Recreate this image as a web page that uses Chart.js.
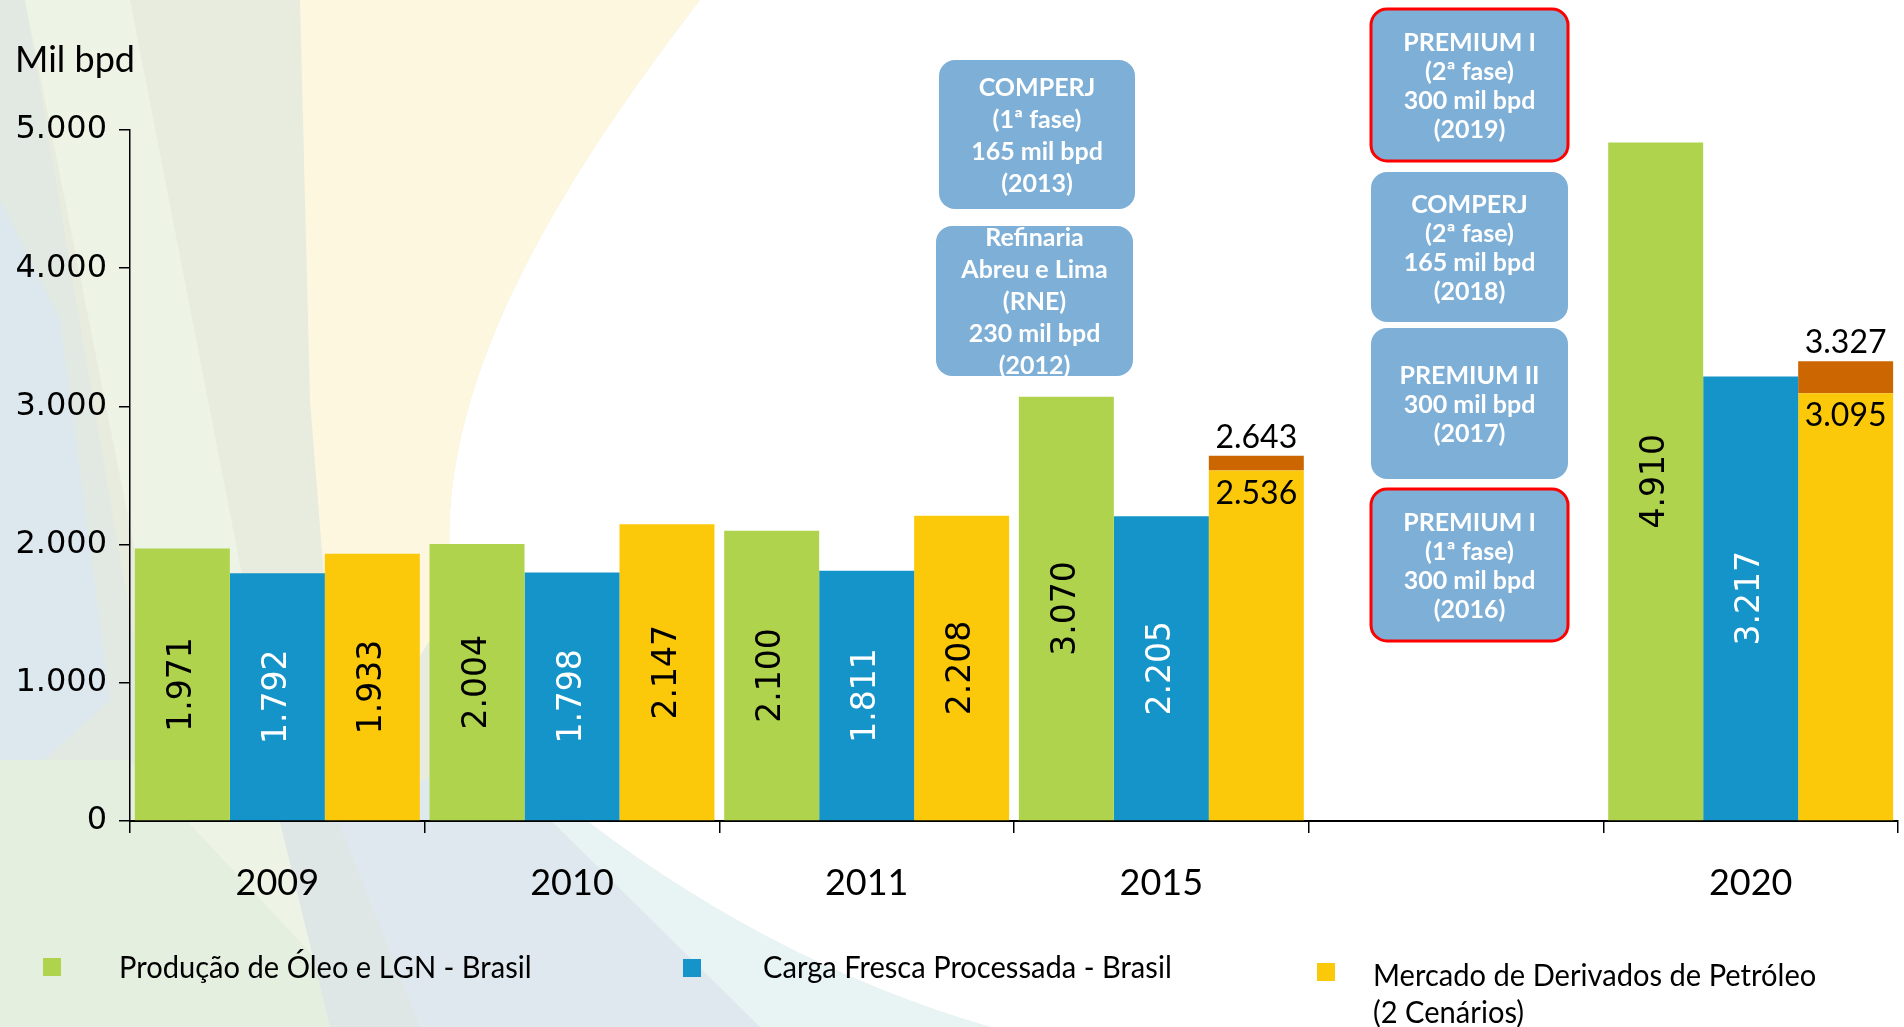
<!DOCTYPE html>
<html>
<head>
<meta charset="utf-8">
<script src="https://cdn.jsdelivr.net/npm/chart.js@4.4.1/dist/chart.umd.min.js"></script>
<style>
html, body { margin: 0; padding: 0; background: #fff; }
#wrap { position: relative; width: 1904px; height: 1027px; overflow: hidden; }
#ItemC1 { position: absolute; left: 0; top: 0; }
.txt { position: absolute; font-family: Lato, sans-serif; color: #000; white-space: nowrap; transform-origin: 0 0; }
.sq { position: absolute; width: 18px; height: 18px; }
</style>
</head>
<body>
<div id="wrap">
  <canvas id="ItemC1" width="1904" height="1027"></canvas>
  <div class="txt" style="left:15px;top:40px;font-size:36px;line-height:36px;transform:scaleX(1.0)">Mil bpd</div>

  <div class="sq" style="left:43px;top:958px;background:#b0d34e"></div>
  <div class="txt" style="left:119px;top:951px;font-size:30px;line-height:30px;transform:scaleX(0.97)">Produção de Óleo e LGN - Brasil</div>

  <div class="sq" style="left:683px;top:959px;background:#1494c8"></div>
  <div class="txt" style="left:763px;top:951px;font-size:30px;line-height:30px;transform:scaleX(0.97)">Carga Fresca Processada - Brasil</div>

  <div class="sq" style="left:1317px;top:963px;background:#fbc90a"></div>
  <div class="txt" style="left:1373px;top:956px;font-size:30px;line-height:37px;transform:scaleX(0.97)">Mercado de Derivados de Petróleo<br>(2 Cenários)</div>
</div>
<script>
// anos (a 5a categoria fica vazia, como no slide)
var categories = ['2009', '2010', '2011', '2015', '', '2020'];

var producao = [1971, 2004, 2100, 3070, null, 4910];     // Produção de Óleo e LGN
var cargaFresca = [1792, 1798, 1811, 2205, null, 3217];  // Carga Fresca Processada
var mercado = [1933, 2147, 2208, 2536, null, 3095];      // Mercado de Derivados (cenário base)
var mercadoAlto = [null, null, null, 2643, null, 3327];  // Mercado de Derivados (cenário alto)

var yTicks = [0, 1000, 2000, 3000, 4000, 5000];

// caixas de refinarias
var boxesLeft = [
    ['COMPERJ', '(1ª fase)', '165 mil bpd', '(2013)'],
    ['Refinaria', 'Abreu e Lima', '(RNE)', '230 mil bpd', '(2012)']
];
var boxesRight = [
    ['PREMIUM I', '(2ª fase)', '300 mil bpd', '(2019)'],
    ['COMPERJ', '(2ª fase)', '165 mil bpd', '(2018)'],
    ['PREMIUM II', '300 mil bpd', '(2017)'],
    ['PREMIUM I', '(1ª fase)', '300 mil bpd', '(2016)']
];
var boxesRightRed = [true, false, false, true];

function fmt(v) {
    return String(v).replace(/\B(?=(\d{3})+(?!\d))/g, '.');
}

var extra = mercadoAlto.map(function(v, i) {
    return v == null ? null : v - mercado[i];
});

var viewport = document.getElementById('ItemC1');
var ctx = viewport.getContext('2d');

var backdrop = {
    id: 'backdrop',
    beforeDraw: function(chart) {
        var c = chart.ctx, w = chart.width, h = chart.height;
        c.save();
        c.fillStyle = '#ffffff';
        c.fillRect(0, 0, w, h);
        c.beginPath();
        c.moveTo(0, 0);
        c.lineTo(700, 0);
        c.bezierCurveTo(500, 260, 330, 560, 560, 800);
        c.quadraticCurveTo(760, 960, 990, 1027);
        c.lineTo(0, 1027);
        c.closePath();
        c.clip();
        c.fillStyle = '#e8ecdf';
        c.fillRect(0, 0, w, h);

        function poly(col, pts) {
            c.fillStyle = col;
            c.beginPath();
            c.moveTo(pts[0], pts[1]);
            for (var k = 2; k < pts.length; k += 2) c.lineTo(pts[k], pts[k + 1]);
            c.closePath();
            c.fill();
        }
        poly('#fdf7df', [300, 0, 900, 0, 900, 600, 430, 640, 340, 780, 310, 400]);
        poly('#e1e9e2', [0, 0, 25, 0, 200, 1027, 0, 1027]);
        poly('#eef4e5', [25, 0, 130, 0, 330, 1027, 230, 1027]);
        poly('#dde8ee', [0, 200, 60, 320, 110, 700, 0, 800]);
        poly('#e5efdf', [0, 760, 130, 760, 380, 1027, 0, 1027]);
        poly('#dfe7e6', [250, 700, 330, 780, 420, 1027, 330, 1027]);
        poly('#dfe8ee', [330, 800, 520, 760, 800, 1027, 420, 1027]);
        poly('#e8f3f3', [520, 790, 660, 850, 990, 1027, 760, 1027]);
        c.restore();
    }
};

var annotations = {
    id: 'annotations',
    afterDatasetsDraw: function(chart) {
        var c = chart.ctx;
        c.save();

        // rótulos nas barras
        c.textAlign = 'center';
        c.textBaseline = 'middle';
        for (var d = 0; d < 3; d++) {
            var meta = chart.getDatasetMeta(d);
            var vals = chart.data.datasets[d].data;
            meta.data.forEach(function(bar, i) {
                if (vals[i] == null) return;
                if (d === 2 && extra[i] != null) {
                    c.font = '32px Lato';
                    c.fillStyle = '#000';
                    c.textBaseline = 'alphabetic';
                    c.fillText(fmt(vals[i]), bar.x, bar.y + 33);
                    c.textBaseline = 'middle';
                    return;
                }
                c.font = '33px "DejaVu Sans"';
                c.fillStyle = d === 1 ? '#ffffff' : '#000000';
                c.save();
                c.translate(bar.x, (bar.y + bar.base) / 2);
                c.rotate(-Math.PI / 2);
                c.fillText(fmt(vals[i]), 0, 0);
                c.restore();
            });
        }
        var metaTop = chart.getDatasetMeta(3);
        metaTop.data.forEach(function(bar, i) {
            if (extra[i] == null) return;
            c.font = '32px Lato';
            c.fillStyle = '#000';
            c.textBaseline = 'alphabetic';
            c.fillText(fmt(mercadoAlto[i]), bar.x, bar.y - 8);
        });

        // caixas
        function box(x, y, w, h, lines, red, gap) {
            c.beginPath();
            c.roundRect(x, y, w, h, 16);
            c.fillStyle = '#7eafd7';
            c.fill();
            if (red) {
                c.lineWidth = 3;
                c.strokeStyle = '#ff0000';
                c.stroke();
            }
            c.fillStyle = '#ffffff';
            c.font = 'bold 25px Lato';
            c.textAlign = 'center';
            c.textBaseline = 'middle';
            var cy = y + h / 2 - (lines.length - 1) * gap / 2;
            lines.forEach(function(t, k) {
                c.fillText(t, x + w / 2, cy + k * gap + 1);
            });
        }
        box(939, 60, 196, 149, boxesLeft[0], false, 32);
        box(936, 226, 197, 150, boxesLeft[1], false, 32);
        var tops = [9, 172, 328, 489];
        var hs = [152, 150, 151, 152];
        boxesRight.forEach(function(lines, k) {
            box(1371, tops[k], 197, hs[k], lines, boxesRightRed[k], 29);
        });
        c.restore();
    }
};

var chartData = {
    type: 'bar',
    data: {
        labels: categories,
        datasets: [
            { label: 'Produção de Óleo e LGN - Brasil', data: producao, backgroundColor: '#b0d34e', stack: 'p' },
            { label: 'Carga Fresca Processada - Brasil', data: cargaFresca, backgroundColor: '#1494c8', stack: 'c' },
            { label: 'Mercado de Derivados de Petróleo', data: mercado, backgroundColor: '#fbc90a', stack: 'm' },
            { label: 'Mercado (cenário alto)', data: extra, backgroundColor: '#cc6600', stack: 'm' }
        ]
    },
    options: {
        responsive: false,
        animation: false,
        layout: { padding: { top: 130, right: 6, left: 0, bottom: 0 } },
        datasets: { bar: { categoryPercentage: 0.967, barPercentage: 1.0, borderWidth: 0 } },
        plugins: { legend: { display: false }, tooltip: { enabled: false } },
        scales: {
            x: {
                stacked: true,
                offset: true,
                grid: { offset: true, drawOnChartArea: false, tickLength: 12, color: '#000', lineWidth: 1.5 },
                border: { color: '#000', width: 2 },
                ticks: { font: { family: 'Lato', size: 36 }, color: '#000', padding: 29, maxRotation: 0, autoSkip: false },
                afterFit: function(s) { s.height = 206; }
            },
            y: {
                stacked: true,
                min: yTicks[0],
                max: yTicks[yTicks.length - 1],
                afterBuildTicks: function(s) { s.ticks = yTicks.map(function(v) { return { value: v }; }); },
                grid: { drawOnChartArea: false, tickLength: 11, color: '#000', lineWidth: 1.5 },
                border: { color: '#000', width: 1.5 },
                ticks: { font: { family: 'DejaVu Sans', size: 32 }, color: '#000', padding: 12, callback: fmt },
                afterFit: function(s) { s.width = 130; }
            }
        }
    },
    plugins: [backdrop, annotations]
};

var myChart = new Chart(ctx, chartData);
</script>
</body>
</html>
